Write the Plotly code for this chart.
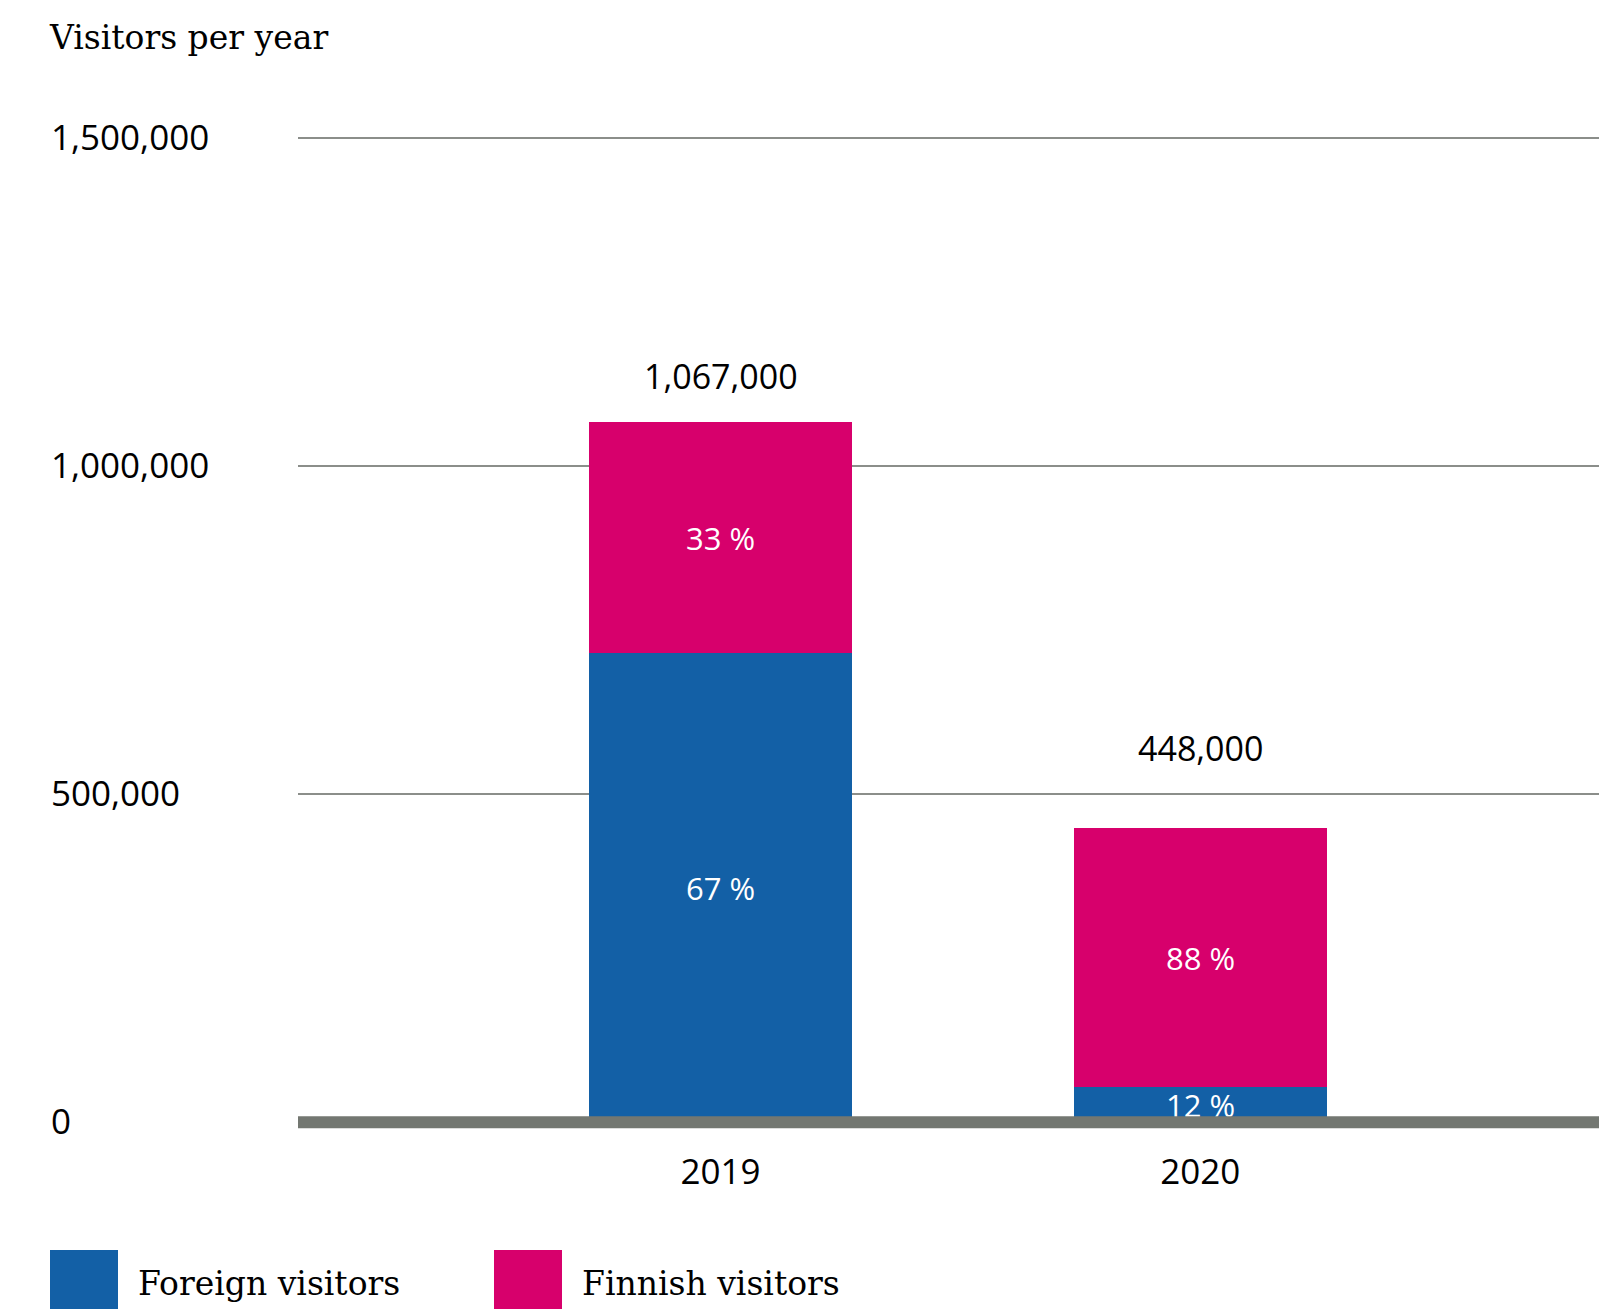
import plotly.graph_objects as go

# ---- data ----
years = ["2019", "2020"]
series_names = ["Foreign visitors", "Finnish visitors"]
foreign = [715000, 54000]
finnish = [352000, 394000]
foreign_pct = ["67 %", "12 %"]
finnish_pct = ["33 %", "88 %"]
totals = [1067000, 448000]
total_labels = ["1,067,000", "448,000"]
tick_vals = [0, 500000, 1000000, 1500000]
tick_text = ["0", "500,000", "1,000,000", "1,500,000"]

# ---- style ----
BLUE = "#1360a6"
PINK = "#d7006c"
AXIS = "#737771"
GRID = "#8b8e8a"
SANS = "Open Sans"
SERIF = "DejaVu Serif"
bar_widths = [0.548, 0.527]
total_label_shift = [46, 80]

W, H = 1599, 1309
ML, MT, MB = 298, 105, 154
PW, PH = W - ML, H - MT - MB

fig = go.Figure()
fig.add_trace(go.Bar(
    x=years, y=foreign, name=series_names[0], marker_color=BLUE,
    marker_line_width=0, width=bar_widths,
    text=foreign_pct, textposition="inside", insidetextanchor="middle",
    textangle=0, constraintext="none",
    textfont=dict(family=SANS, size=31, color="white"),
    showlegend=False, cliponaxis=False,
))
fig.add_trace(go.Bar(
    x=years, y=finnish, name=series_names[1], marker_color=PINK,
    marker_line_width=0, width=bar_widths,
    text=finnish_pct, textposition="inside", insidetextanchor="middle",
    textangle=0, constraintext="none",
    textfont=dict(family=SANS, size=31, color="white"),
    showlegend=False, cliponaxis=False,
))

for i, (tot, lab, sh) in enumerate(zip(totals, total_labels, total_label_shift)):
    fig.add_annotation(x=i, y=tot, xref="x", yref="y", text=lab, showarrow=False,
                       yanchor="middle", yshift=sh,
                       font=dict(family=SANS, size=34, color="black"))

# zero axis line drawn above bars
fig.add_shape(type="line", xref="paper", x0=0, x1=1, yref="y", y0=0, y1=0,
              line=dict(color=AXIS, width=12), layer="above")

# legend drawn manually (large squares)
legend_px = [50, 494]
for i, (name, col) in enumerate(zip(series_names, [BLUE, PINK])):
    x0 = (legend_px[i] - ML) / PW
    x1 = (legend_px[i] + 68 - ML) / PW
    fig.add_shape(type="rect", xref="paper", yref="paper",
                  x0=x0, x1=x1, y0=-95 / PH, y1=-175 / PH,
                  fillcolor=col, line_width=0)
    fig.add_annotation(xref="paper", yref="paper",
                       x=(legend_px[i] + 86 - ML) / PW, y=-128 / PH,
                       xanchor="left", yanchor="middle", text=name, showarrow=False,
                       font=dict(family=SERIF, size=33, color="black"))

fig.update_layout(
    width=W, height=H,
    margin=dict(l=ML, r=0, t=MT, b=MB),
    barmode="stack", bargap=0,
    plot_bgcolor="white", paper_bgcolor="white",
    title=dict(text="Visitors per year", xref="container", yref="container",
               x=50 / W, y=1 - 37 / H, xanchor="left", yanchor="middle",
               font=dict(family=SERIF, size=33, color="black")),
    xaxis=dict(type="category", range=[-0.8806, 1.831], showgrid=False,
               zeroline=False, showline=False, ticks="",
               ticklabelstandoff=-7,
               tickfont=dict(family=SANS, size=35, color="black")),
    yaxis=dict(range=[-50000, 1550000], tickvals=tick_vals, ticktext=tick_text,
               showgrid=True, gridcolor=GRID, gridwidth=1.5, zeroline=False,
               showline=False, ticks="", ticklabelposition="inside",
               ticklabelstandoff=-250,
               tickfont=dict(family=SANS, size=35, color="black")),
)

fig.write_html("out.html",
               config={"displayModeBar": False},
               post_script="document.body.style.margin='0';"
                           "document.body.style.overflow='hidden';")
